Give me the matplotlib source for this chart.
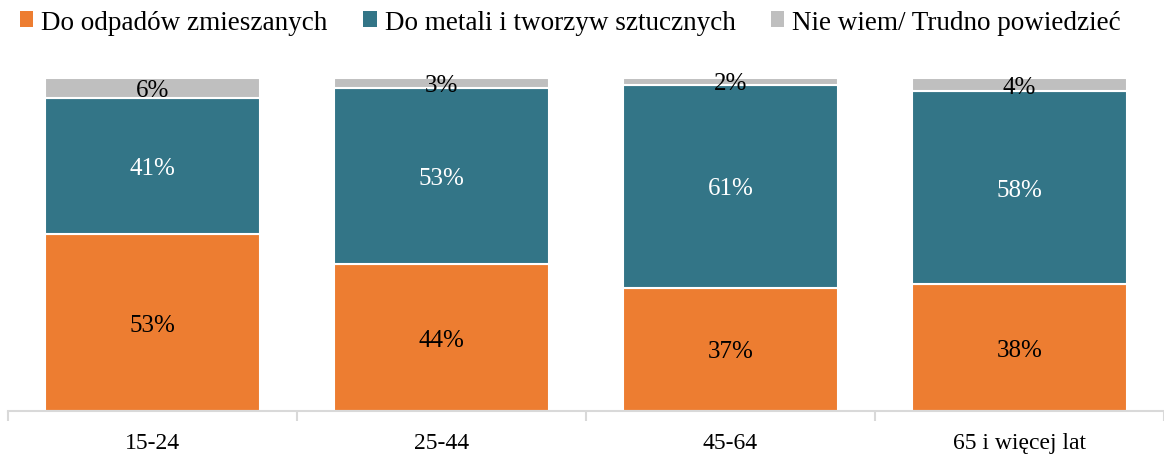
import numpy as np
import matplotlib
matplotlib.use("Agg")
import matplotlib.pyplot as plt
from matplotlib.patches import Patch

plt.rcParams['font.family'] = ['Liberation Serif', 'DejaVu Serif']

kategorie = ["15-24", "25-44", "45-64", "65 i więcej lat"]
serie = ["Do odpadów zmieszanych", "Do metali i tworzyw sztucznych",
         "Nie wiem/ Trudno powiedzieć"]
odpady_zmieszane = [53, 44, 37, 38]
metale_tworzywa = [41, 53, 61, 58]
nie_wiem = [6, 3, 2, 4]

kolory = ["#ED7D31", "#337587", "#BFBFBF"]
kolory_tekstu = ["black", "white", "black"]

fig = plt.figure(figsize=(11.64, 4.56), dpi=100)
ax = fig.add_axes([0.0069, 0.0965, 0.9931, 0.7305])

x = np.arange(len(kategorie))
dol = np.zeros(len(kategorie))
for wartosci, kolor, kt in zip([odpady_zmieszane, metale_tworzywa, nie_wiem],
                               kolory, kolory_tekstu):
    wartosci = np.array(wartosci, dtype=float)
    ax.bar(x, wartosci, bottom=dol, width=0.744, color=kolor,
           edgecolor="white", linewidth=1.5)
    for xi, v, b in zip(x, wartosci, dol):
        ax.text(xi, b + v / 2 - 0.6, f"{int(v)}%", ha="center", va="center",
                fontsize=18, color=kt)
    dol += wartosci

ax.set_xlim(-0.5, len(kategorie) - 0.5)
ax.set_ylim(0, 100)
ax.set_yticks([])
for s in ["top", "right", "left"]:
    ax.spines[s].set_visible(False)
ax.spines["bottom"].set_color("#D9D9D9")
ax.spines["bottom"].set_linewidth(1.5)

ax.set_xticks(x)
ax.set_xticklabels(kategorie, fontsize=17)
ax.tick_params(axis="x", which="major", length=0, pad=15)
ax.set_xticks(np.arange(-0.5, len(kategorie)), minor=True)
ax.tick_params(axis="x", which="minor", length=7, width=1.5, color="#D9D9D9")

uchwyty = [Patch(facecolor=k, edgecolor="none") for k in kolory]
fig.legend(uchwyty, serie, loc="upper center", bbox_to_anchor=(0.49, 1.03),
           ncol=3, frameon=False, fontsize=19.5, handlelength=0.5,
           handleheight=0.5, handletextpad=0.3, columnspacing=1.3)

plt.savefig("out.png", dpi=100)
plt.close()
